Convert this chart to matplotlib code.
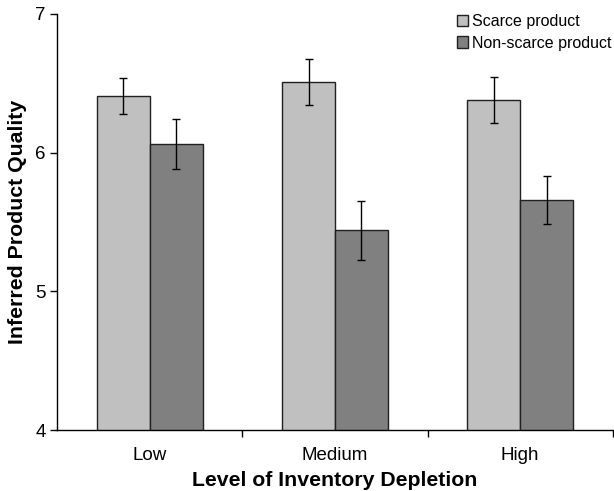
import numpy as np
import matplotlib
matplotlib.use('Agg')
import matplotlib.pyplot as plt

plt.rcParams['font.family'] = ['Liberation Sans', 'DejaVu Sans']

# datos
niveles = ['Low', 'Medium', 'High']
escaso = [6.41, 6.51, 6.38]
escaso_err = [0.13, 0.165, 0.165]
no_escaso = [6.06, 5.44, 5.66]
no_escaso_err = [0.18, 0.21, 0.175]

fig = plt.figure(figsize=(6.14, 4.91), dpi=100)
ax = fig.add_axes([0.093, 0.124, 0.905, 0.8475])

x = np.arange(len(niveles))
ancho = 0.285
err_kw = dict(ecolor='black', elinewidth=1, capsize=3, capthick=1)
ax.bar(x - ancho / 2, escaso, ancho, color='#c0c0c0', edgecolor='#202020',
       linewidth=1, yerr=escaso_err, error_kw=err_kw, label='Scarce product')
ax.bar(x + ancho / 2, no_escaso, ancho, color='#808080', edgecolor='#202020',
       linewidth=1, yerr=no_escaso_err, error_kw=err_kw, label='Non-scarce product')

ax.set_ylim(4, 7)
ax.set_xlim(-0.5, 2.5)
ax.set_yticks([4, 5, 6, 7])
ax.set_xticks(x)
ax.set_xticklabels(niveles)
ax.set_xticks([0.5, 1.5, 2.5], minor=True)
ax.tick_params(axis='x', which='major', length=0, pad=12, labelsize=13.5)
ax.tick_params(axis='x', which='minor', length=5, width=1, direction='out')
ax.tick_params(axis='y', length=5, width=1, direction='out', labelsize=13.5, pad=3)

for lado in ['top', 'right']:
    ax.spines[lado].set_visible(False)
for lado in ['left', 'bottom']:
    ax.spines[lado].set_linewidth(1)

ax.set_xlabel('Level of Inventory Depletion', fontsize=15.3, fontweight='bold', labelpad=5)
ax.set_ylabel('Inferred Product Quality', fontsize=15.3, fontweight='bold', labelpad=6)

ax.legend(loc='upper right', bbox_to_anchor=(1.01, 1.015), frameon=False, fontsize=11.5,
          handlelength=0.7, handleheight=0.7, handletextpad=0.25, labelspacing=0.4,
          borderaxespad=0)

plt.savefig('out.png', dpi=100)
